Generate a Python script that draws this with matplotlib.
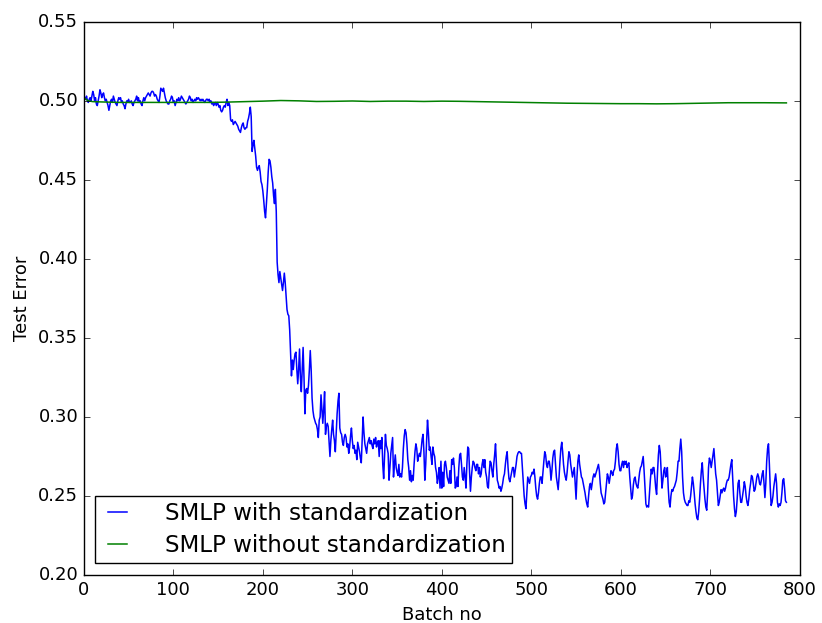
import matplotlib
matplotlib.use("Agg")
import matplotlib.pyplot as plt
import numpy as np

plt.style.use("classic")
plt.rcParams["font.family"] = ["DejaVu Sans"]

# Blue series: SMLP with standardization (one value per batch, 0..785)
with_std = [
    0.500, 0.502, 0.501, 0.503, 0.500, 0.499, 0.501, 0.502, 0.500, 0.503,
    0.506, 0.504, 0.500, 0.502, 0.498, 0.497, 0.500, 0.503, 0.507, 0.505,
    0.502, 0.504, 0.505, 0.502, 0.500, 0.501, 0.499, 0.497, 0.494, 0.497,
    0.500, 0.501, 0.499, 0.503, 0.501, 0.499, 0.498, 0.497, 0.500, 0.502,
    0.501, 0.502, 0.499, 0.500, 0.498, 0.497, 0.495, 0.498, 0.500, 0.499,
    0.501, 0.499, 0.499, 0.500, 0.498, 0.497, 0.499, 0.500, 0.501, 0.503,
    0.500, 0.502, 0.499, 0.500, 0.498, 0.497, 0.500, 0.502, 0.500, 0.502,
    0.503, 0.504, 0.505, 0.504, 0.503, 0.505, 0.506, 0.506, 0.505, 0.503,
    0.504, 0.503, 0.501, 0.500, 0.499, 0.503, 0.508, 0.507, 0.506, 0.508,
    0.505, 0.502, 0.500, 0.499, 0.498, 0.498, 0.500, 0.501, 0.503, 0.502,
    0.499, 0.500, 0.497, 0.499, 0.501, 0.500, 0.502, 0.500, 0.501, 0.503,
    0.502, 0.501, 0.500, 0.499, 0.498, 0.499, 0.500, 0.501, 0.503, 0.502,
    0.500, 0.501, 0.499, 0.500, 0.501, 0.500, 0.502, 0.501, 0.502, 0.501,
    0.500, 0.501, 0.500, 0.501, 0.500, 0.499, 0.500, 0.501, 0.501, 0.500,
    0.501, 0.499, 0.500, 0.498, 0.499, 0.497, 0.498, 0.499, 0.497, 0.499,
    0.498, 0.496, 0.497, 0.494, 0.493, 0.494, 0.496, 0.497, 0.496, 0.499,
    0.501, 0.497, 0.499, 0.497, 0.488, 0.487, 0.488, 0.485, 0.486, 0.487,
    0.486, 0.485, 0.484, 0.482, 0.481, 0.480, 0.483, 0.485, 0.486, 0.483,
    0.482, 0.483, 0.483, 0.487, 0.489, 0.492, 0.496, 0.490, 0.468, 0.472,
    0.475, 0.470, 0.465, 0.458, 0.456, 0.458, 0.459, 0.455, 0.449, 0.447,
    0.443, 0.437, 0.430, 0.426, 0.435, 0.444, 0.455, 0.463, 0.462, 0.458,
    0.452, 0.448, 0.440, 0.435, 0.444, 0.430, 0.398, 0.390, 0.385, 0.392,
    0.388, 0.384, 0.380, 0.385, 0.391, 0.385, 0.376, 0.368, 0.365, 0.364,
    0.355, 0.340, 0.326, 0.336, 0.330, 0.336, 0.340, 0.341, 0.330, 0.321,
    0.330, 0.343, 0.325, 0.316, 0.330, 0.344, 0.325, 0.302, 0.317, 0.318,
    0.315, 0.320, 0.330, 0.342, 0.330, 0.312, 0.304, 0.300, 0.298, 0.296,
    0.295, 0.292, 0.287, 0.298, 0.300, 0.314, 0.305, 0.296, 0.305, 0.316,
    0.289, 0.294, 0.296, 0.294, 0.285, 0.275, 0.285, 0.292, 0.298, 0.289,
    0.285, 0.278, 0.290, 0.302, 0.310, 0.315, 0.293, 0.290, 0.289, 0.284,
    0.282, 0.287, 0.289, 0.287, 0.281, 0.283, 0.277, 0.281, 0.288, 0.293,
    0.285, 0.280, 0.282, 0.277, 0.279, 0.273, 0.284, 0.281, 0.278, 0.274,
    0.271, 0.285, 0.300, 0.290, 0.283, 0.280, 0.277, 0.283, 0.285, 0.287,
    0.283, 0.285, 0.282, 0.280, 0.286, 0.283, 0.287, 0.281, 0.284, 0.285,
    0.275, 0.285, 0.280, 0.287, 0.270, 0.261, 0.275, 0.289, 0.282, 0.280,
    0.277, 0.260, 0.268, 0.277, 0.282, 0.287, 0.262, 0.270, 0.276, 0.268,
    0.265, 0.263, 0.270, 0.262, 0.264, 0.262, 0.268, 0.280, 0.288, 0.292,
    0.290, 0.283, 0.273, 0.268, 0.260, 0.266, 0.259, 0.263, 0.260, 0.270,
    0.278, 0.283, 0.280, 0.272, 0.275, 0.277, 0.275, 0.280, 0.286, 0.289,
    0.278, 0.260, 0.270, 0.285, 0.298, 0.290, 0.279, 0.281, 0.275, 0.270,
    0.281, 0.277, 0.275, 0.268, 0.265, 0.258, 0.262, 0.268, 0.255, 0.272,
    0.255, 0.265, 0.256, 0.270, 0.272, 0.268, 0.262, 0.260, 0.258, 0.266,
    0.258, 0.273, 0.270, 0.274, 0.268, 0.255, 0.256, 0.262, 0.256, 0.268,
    0.276, 0.277, 0.270, 0.262, 0.260, 0.268, 0.262, 0.255, 0.270, 0.281,
    0.280, 0.265, 0.253, 0.262, 0.268, 0.272, 0.271, 0.268, 0.266, 0.270,
    0.270, 0.264, 0.268, 0.262, 0.264, 0.270, 0.273, 0.268, 0.273, 0.265,
    0.262, 0.256, 0.255, 0.265, 0.272, 0.271, 0.266, 0.262, 0.270, 0.276,
    0.283, 0.270, 0.260, 0.258, 0.255, 0.256, 0.253, 0.255, 0.258, 0.262,
    0.264, 0.270, 0.275, 0.278, 0.268, 0.261, 0.259, 0.262, 0.265, 0.268,
    0.268, 0.262, 0.266, 0.270, 0.275, 0.277, 0.278, 0.278, 0.277, 0.277,
    0.268, 0.258, 0.250, 0.245, 0.242, 0.252, 0.262, 0.260, 0.258, 0.262,
    0.263, 0.265, 0.264, 0.267, 0.262, 0.255, 0.250, 0.248, 0.252, 0.258,
    0.262, 0.262, 0.258, 0.265, 0.272, 0.278, 0.276, 0.270, 0.268, 0.272,
    0.272, 0.268, 0.260, 0.266, 0.274, 0.278, 0.279, 0.270, 0.262, 0.258,
    0.254, 0.262, 0.272, 0.280, 0.284, 0.278, 0.270, 0.265, 0.262, 0.260,
    0.265, 0.272, 0.278, 0.276, 0.270, 0.266, 0.262, 0.265, 0.268, 0.258,
    0.248, 0.262, 0.272, 0.276, 0.270, 0.266, 0.262, 0.261, 0.258, 0.255,
    0.252, 0.248, 0.245, 0.243, 0.250, 0.256, 0.258, 0.254, 0.258, 0.262,
    0.264, 0.262, 0.264, 0.266, 0.268, 0.270, 0.266, 0.258, 0.252, 0.250,
    0.248, 0.245, 0.246, 0.252, 0.258, 0.264, 0.262, 0.258, 0.262, 0.266,
    0.265, 0.263, 0.266, 0.267, 0.272, 0.280, 0.283, 0.278, 0.270, 0.266,
    0.266, 0.270, 0.272, 0.268, 0.272, 0.270, 0.272, 0.268, 0.270, 0.271,
    0.262, 0.255, 0.248, 0.250, 0.257, 0.261, 0.262, 0.258, 0.256, 0.255,
    0.260, 0.265, 0.268, 0.269, 0.272, 0.275, 0.266, 0.255, 0.245, 0.243,
    0.244, 0.243, 0.252, 0.260, 0.267, 0.264, 0.268, 0.268, 0.262, 0.255,
    0.251, 0.265, 0.276, 0.282, 0.278, 0.266, 0.255, 0.260, 0.266, 0.268,
    0.262, 0.263, 0.268, 0.255, 0.246, 0.243, 0.250, 0.254, 0.253, 0.255,
    0.256, 0.258, 0.260, 0.265, 0.272, 0.272, 0.280, 0.286, 0.278, 0.262,
    0.252, 0.248, 0.246, 0.245, 0.244, 0.244, 0.247, 0.246, 0.250, 0.256,
    0.262, 0.258, 0.252, 0.245, 0.240, 0.236, 0.235, 0.240, 0.248, 0.258,
    0.266, 0.271, 0.262, 0.255, 0.248, 0.243, 0.241, 0.252, 0.268, 0.274,
    0.272, 0.268, 0.272, 0.276, 0.280, 0.272, 0.264, 0.260, 0.252, 0.244,
    0.246, 0.250, 0.254, 0.252, 0.254, 0.255, 0.253, 0.255, 0.258, 0.260,
    0.260, 0.262, 0.266, 0.270, 0.273, 0.262, 0.250, 0.242, 0.237, 0.240,
    0.248, 0.258, 0.260, 0.252, 0.246, 0.246, 0.250, 0.254, 0.259, 0.256,
    0.250, 0.246, 0.244, 0.248, 0.254, 0.258, 0.263, 0.262, 0.258, 0.253,
    0.254, 0.258, 0.262, 0.264, 0.262, 0.258, 0.257, 0.260, 0.264, 0.266,
    0.258, 0.249, 0.258, 0.272, 0.280, 0.283, 0.270, 0.255, 0.244, 0.246,
    0.250, 0.256, 0.260, 0.264, 0.258, 0.246, 0.243, 0.245, 0.244, 0.246,
    0.252, 0.260, 0.261, 0.255, 0.247, 0.246,
]

# Green series: SMLP without standardization (smooth, sampled batches)
without_std_batch = [0, 5, 10, 20, 40, 60, 80, 100, 120, 140, 160, 180, 200,
                     220, 240, 260, 280, 300, 320, 340, 360, 380, 400, 420,
                     440, 460, 480, 500, 520, 540, 560, 580, 600, 620, 640,
                     660, 680, 700, 720, 740, 760, 785]
without_std = [0.5020, 0.5000, 0.4995, 0.4993, 0.4990, 0.4990, 0.4990, 0.4990,
               0.4990, 0.4990, 0.4992, 0.4995, 0.4998, 0.5002, 0.5000, 0.4996,
               0.4997, 0.4999, 0.4996, 0.4998, 0.4998, 0.4996, 0.4998, 0.4997,
               0.4995, 0.4993, 0.4991, 0.4989, 0.4987, 0.4985, 0.4984, 0.4983,
               0.4982, 0.4982, 0.4981, 0.4982, 0.4984, 0.4986, 0.4988, 0.4988,
               0.4988, 0.4987]

labels = ["SMLP with standardization", "SMLP without standardization"]

fig = plt.figure(figsize=(8.22, 6.23), dpi=100, facecolor="white")
ax = fig.add_axes([0.102, 0.077, 0.871, 0.888])
ax.plot(np.arange(len(with_std)), with_std, color="b", lw=1.1, label=labels[0])
ax.plot(without_std_batch, without_std, color="g", lw=1.1, label=labels[1])

ax.set_xlim(0, 800)
ax.set_ylim(0.20, 0.55)
ax.set_xticks(np.arange(0, 801, 100))
ax.set_yticks(np.arange(0.20, 0.551, 0.05))
ax.tick_params(labelsize=13)
ax.set_xlabel("Batch no", fontsize=13)
ax.set_ylabel("Test Error", fontsize=13)

leg = ax.legend(loc="lower left", bbox_to_anchor=(0.0154, 0.022),
                borderaxespad=0, fontsize=16.6, frameon=True, fancybox=False,
                framealpha=1.0, edgecolor="black", handlelength=1.45,
                handletextpad=1.35, borderpad=0.25, labelspacing=0.4)

fig.savefig("out.png", dpi=100, facecolor="white")
